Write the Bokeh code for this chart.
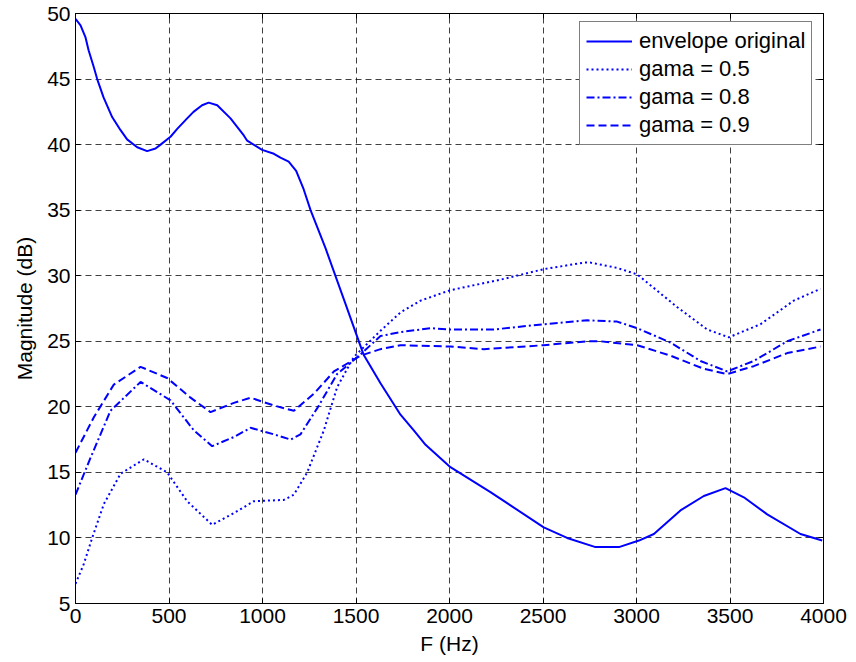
from bokeh.plotting import figure
from bokeh.models import LinearAxis, FixedTicker, Range1d, Legend, LegendItem
from bokeh.embed import file_html
from bokeh.resources import INLINE

# envelope original
env_f = [0, 27, 53, 70, 98, 116, 150, 196, 241, 276, 330, 383, 428, 455, 508, 544, 597, 631,
         677, 712, 758, 829, 900, 918, 998, 1061, 1096, 1140, 1180, 1220, 1257, 1337, 1440, 1540,
         1631, 1738, 1809, 1872, 2005, 2219, 2504, 2629, 2781, 2906, 3013, 3093, 3235, 3360,
         3476, 3574, 3699, 3877, 3993]
env_db = [49.6, 49.1, 48.2, 47.2, 45.9, 45.0, 43.6, 42.1, 41.1, 40.4, 39.8, 39.5, 39.7, 40.0,
          40.6, 41.2, 42.0, 42.5, 43.0, 43.2, 43.0, 42.0, 40.7, 40.3, 39.6, 39.3, 39.0, 38.7,
          38.0, 36.6, 35.0, 32.1, 28.0, 24.0, 21.8, 19.4, 18.2, 17.1, 15.4, 13.5, 10.8, 10.0,
          9.3, 9.3, 9.8, 10.3, 12.1, 13.2, 13.8, 13.1, 11.8, 10.3, 9.8]

# gama = 0.5
g5_f = [0, 44, 89, 152, 241, 366, 490, 597, 731, 847, 954, 1114, 1168, 1239, 1328, 1399, 1488,
        1631, 1738, 1845, 2005, 2273, 2504, 2718, 2754, 2896, 3004, 3218, 3378, 3494, 3663,
        3841, 3984]
g5_db = [6.5, 8.0, 10.0, 12.6, 14.9, 16.0, 15.0, 12.8, 11.0, 11.9, 12.8, 12.9, 13.3, 15.0,
         18.2, 21.5, 23.8, 25.8, 27.2, 28.1, 28.9, 29.7, 30.5, 31.0, 31.0, 30.6, 30.1, 27.6,
         25.9, 25.3, 26.3, 28.1, 29.0]

# gama = 0.8
g8_f = [0, 80, 187, 348, 508, 633, 731, 847, 936, 1061, 1150, 1203, 1293, 1399, 1524, 1631,
        1738, 1898, 2005, 2237, 2504, 2736, 2896, 3004, 3182, 3342, 3485, 3627, 3806, 3984]
g8_db = [13.3, 16.1, 19.7, 21.9, 20.5, 18.2, 17.0, 17.7, 18.4, 17.9, 17.5, 17.9, 19.9, 22.5,
         24.0, 25.4, 25.7, 26.0, 25.9, 25.9, 26.3, 26.6, 26.5, 26.0, 24.9, 23.5, 22.7, 23.5,
         25.0, 25.9]

# gama = 0.9
g9_f = [0, 98, 205, 348, 490, 615, 722, 847, 936, 1061, 1168, 1275, 1382, 1524, 1631, 1738,
        2005, 2184, 2504, 2736, 2807, 3004, 3182, 3360, 3485, 3627, 3806, 3984]
g9_db = [16.5, 19.2, 21.7, 23.05, 22.2, 20.7, 19.6, 20.3, 20.7, 20.1, 19.7, 21.0, 22.7, 23.9,
         24.4, 24.7, 24.6, 24.4, 24.7, 25.0, 25.0, 24.7, 23.9, 22.9, 22.5, 23.1, 24.1, 24.6]

x_ticks = [0, 500, 1000, 1500, 2000, 2500, 3000, 3500, 4000]
y_ticks = [5, 10, 15, 20, 25, 30, 35, 40, 45, 50]
labels = ["envelope original", "gama = 0.5", "gama = 0.8", "gama = 0.9"]

FONT = "Liberation Sans"
FS = "21px"
LFS = "22px"
BLUE = "#0000ff"

p = figure(width=850, height=660, output_backend="svg", toolbar_location=None,
           x_range=Range1d(0, 4000), y_range=Range1d(5, 50),
           min_border_left=75, min_border_right=27, min_border_top=13, min_border_bottom=57)
p.background_fill_color = "white"
p.border_fill_color = "white"
p.outline_line_color = "black"
p.outline_line_width = 1

r0 = p.line(env_f, env_db, line_color=BLUE, line_width=2)
r1 = p.line(g5_f, g5_db, line_color=BLUE, line_width=2, line_dash="2 3")
r2 = p.line(g8_f, g8_db, line_color=BLUE, line_width=2, line_dash="8 3 2 3")
r3 = p.line(g9_f, g9_db, line_color=BLUE, line_width=2, line_dash="8 4")

for ax in [p.xaxis[0], p.yaxis[0]]:
    ax.major_tick_in = 5
    ax.major_tick_out = 0
    ax.minor_tick_in = 0
    ax.minor_tick_out = 0
    ax.axis_line_color = "black"
    ax.major_label_text_font = FONT
    ax.major_label_text_font_size = FS
    ax.major_label_text_color = "black"
    ax.axis_label_text_font = FONT
    ax.axis_label_text_font_size = FS
    ax.axis_label_text_font_style = "normal"
    ax.axis_label_text_color = "black"

p.xaxis[0].ticker = FixedTicker(ticks=x_ticks)
p.yaxis[0].ticker = FixedTicker(ticks=y_ticks)
p.xaxis[0].axis_label = "F (Hz)"
p.yaxis[0].axis_label = "Magnitude (dB)"
p.xaxis[0].major_label_standoff = 5
p.yaxis[0].major_label_standoff = 5
p.xaxis[0].axis_label_standoff = 6
p.yaxis[0].axis_label_standoff = 8

top = LinearAxis(ticker=FixedTicker(ticks=x_ticks),
                 major_label_overrides={t: "" for t in x_ticks},
                 major_tick_in=5, major_tick_out=0, minor_tick_in=0, minor_tick_out=0,
                 axis_line_color="black")
right = LinearAxis(ticker=FixedTicker(ticks=y_ticks),
                   major_label_overrides={t: "" for t in y_ticks},
                   major_tick_in=5, major_tick_out=0, minor_tick_in=0, minor_tick_out=0,
                   axis_line_color="black")
p.add_layout(top, "above")
p.add_layout(right, "right")

for g in [p.xgrid[0], p.ygrid[0]]:
    g.grid_line_color = "black"
    g.grid_line_alpha = 0.75
    g.grid_line_dash = "6 4"
    g.grid_line_width = 1
p.xgrid[0].ticker = FixedTicker(ticks=x_ticks)
p.ygrid[0].ticker = FixedTicker(ticks=y_ticks)

legend = Legend(items=[LegendItem(label=labels[0], renderers=[r0]),
                       LegendItem(label=labels[1], renderers=[r1]),
                       LegendItem(label=labels[2], renderers=[r2]),
                       LegendItem(label=labels[3], renderers=[r3])],
                location=(504, 458))
legend.label_text_font = FONT
legend.label_text_font_size = LFS
legend.label_text_color = "black"
legend.border_line_color = "black"
legend.border_line_width = 1
legend.glyph_width = 46
legend.glyph_height = 24
legend.label_height = 24
legend.spacing = 2
legend.padding = 6
legend.margin = 0
legend.label_standoff = 7
legend.background_fill_alpha = 1
p.add_layout(legend)

open("out.html", "w").write(file_html(p, INLINE))
